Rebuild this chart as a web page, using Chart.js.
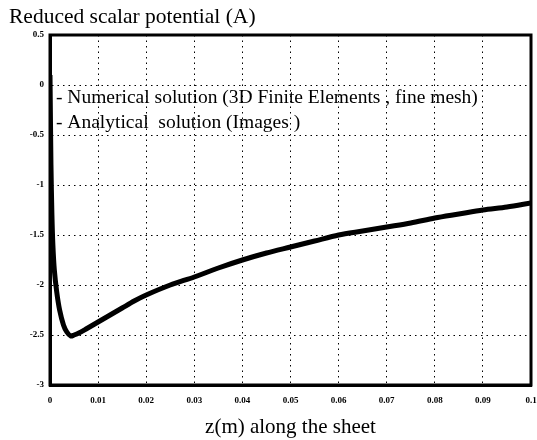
<!DOCTYPE html>
<html>
<head>
<meta charset="utf-8">
<script src="https://cdn.jsdelivr.net/npm/chart.js@4"></script>
<style>
  html, body { margin: 0; padding: 0; background: #fff; }
  #wrap { width: 537px; height: 440px; position: relative; }
</style>
</head>
<body>
<div id="wrap"><canvas id="chart"></canvas></div>
<script>
// values
const zValues = [0, 0.0002, 0.0004, 0.0006, 0.0009, 0.0014, 0.002, 0.0028, 0.0035, 0.0043,
  0.005, 0.006, 0.0075, 0.01, 0.0125, 0.015, 0.0175, 0.02, 0.025, 0.03,
  0.035, 0.04, 0.045, 0.05, 0.055, 0.06, 0.065, 0.07, 0.075, 0.08,
  0.085, 0.09, 0.095, 0.1];
const numericalValues = [0.1, -0.8, -1.3, -1.6, -1.85, -2.07, -2.25, -2.4, -2.47, -2.51,
  -2.5, -2.48, -2.44, -2.37, -2.3, -2.23, -2.16, -2.1, -2.0, -1.92,
  -1.83, -1.75, -1.68, -1.62, -1.56, -1.5, -1.46, -1.42, -1.38, -1.33,
  -1.29, -1.25, -1.22, -1.18];
const analyticalValues = [0.1, -0.8, -1.3, -1.6, -1.85, -2.07, -2.25, -2.4, -2.47, -2.51,
  -2.5, -2.48, -2.44, -2.37, -2.3, -2.23, -2.16, -2.1, -2.0, -1.92,
  -1.83, -1.75, -1.68, -1.62, -1.56, -1.5, -1.46, -1.42, -1.38, -1.33,
  -1.29, -1.25, -1.22, -1.18];
const xTickLabels = ['0', '0.01', '0.02', '0.03', '0.04', '0.05', '0.06', '0.07', '0.08', '0.09', '0.1'];
const yTickLabels = ['0.5', '0', '-0.5', '-1', '-1.5', '-2', '-2.5', '-3'];
const seriesNames = ['- Numerical solution (3D Finite Elements , fine mesh)', '- Analytical  solution (Images )'];
const chartTitle = 'Reduced scalar potential (A)';
const xTitle = 'z(m) along the sheet';

const serif = "'Liberation Serif', 'DejaVu Serif', serif";

// frame, title and in-plot legend text
const decorations = {
  id: 'decorations',
  afterDraw(chart) {
    const { ctx, chartArea: a } = chart;
    ctx.save();
    ctx.strokeStyle = '#000';
    ctx.lineWidth = 3;
    ctx.strokeRect(a.left, a.top, a.right - a.left, a.bottom - a.top);
    ctx.fillStyle = '#000';
    ctx.textBaseline = 'alphabetic';
    ctx.textAlign = 'left';
    ctx.font = '21.5px ' + serif;
    ctx.fillText(chartTitle, 9, 23);
    ctx.font = '19.5px ' + serif;
    ctx.fillText(seriesNames[0], a.left + 6, a.top + 68);
    ctx.fillText(seriesNames[1], a.left + 6, a.top + 93);
    ctx.restore();
  }
};

const toPoints = vals => zValues.map((z, i) => ({ x: z, y: vals[i] }));

new Chart(document.getElementById('chart'), {
  type: 'line',
  data: {
    datasets: [
      {
        label: seriesNames[0],
        data: toPoints(numericalValues),
        borderColor: '#000',
        borderWidth: 5,
        pointRadius: 0,
        tension: 0.3
      },
      {
        label: seriesNames[1],
        data: toPoints(analyticalValues),
        borderColor: '#000',
        borderWidth: 1.5,
        pointRadius: 0,
        tension: 0.3
      }
    ]
  },
  options: {
    responsive: true,
    maintainAspectRatio: false,
    animation: false,
    layout: { padding: { left: 0, right: 6, top: 35, bottom: 0 } },
    plugins: {
      legend: { display: false },
      tooltip: { enabled: false },
      title: { display: false }
    },
    scales: {
      x: {
        type: 'linear',
        min: 0,
        max: 0.1,
        afterFit: s => { s.height = 55; s.paddingLeft = 0; s.paddingRight = 0; },
        afterBuildTicks: s => { s.ticks = xTickLabels.map(t => ({ value: parseFloat(t) })); },
        ticks: {
          padding: 10,
          maxRotation: 0,
          color: '#000',
          font: { family: serif, size: 9, weight: 'bold' },
          callback: (v, i) => xTickLabels[i]
        },
        grid: { color: '#000', lineWidth: 1, drawTicks: false },
        border: { display: true, color: '#000', width: 3, dash: [1.5, 4] },
        title: {
          display: true,
          text: xTitle,
          color: '#000',
          padding: { top: 0, bottom: 0 },
          font: { family: serif, size: 21 }
        }
      },
      y: {
        type: 'linear',
        min: -3,
        max: 0.5,
        afterFit: s => { s.width = 50; s.paddingTop = 0; s.paddingBottom = 0; },
        afterBuildTicks: s => { s.ticks = yTickLabels.map(t => ({ value: parseFloat(t) })); },
        ticks: {
          padding: 6,
          color: '#000',
          font: { family: serif, size: 9, weight: 'bold' },
          callback: (v, i) => yTickLabels[i]
        },
        grid: { color: '#000', lineWidth: 1, drawTicks: false },
        border: { display: true, color: '#000', width: 3, dash: [1.5, 4] }
      }
    }
  },
  plugins: [decorations]
});
</script>
</body>
</html>
